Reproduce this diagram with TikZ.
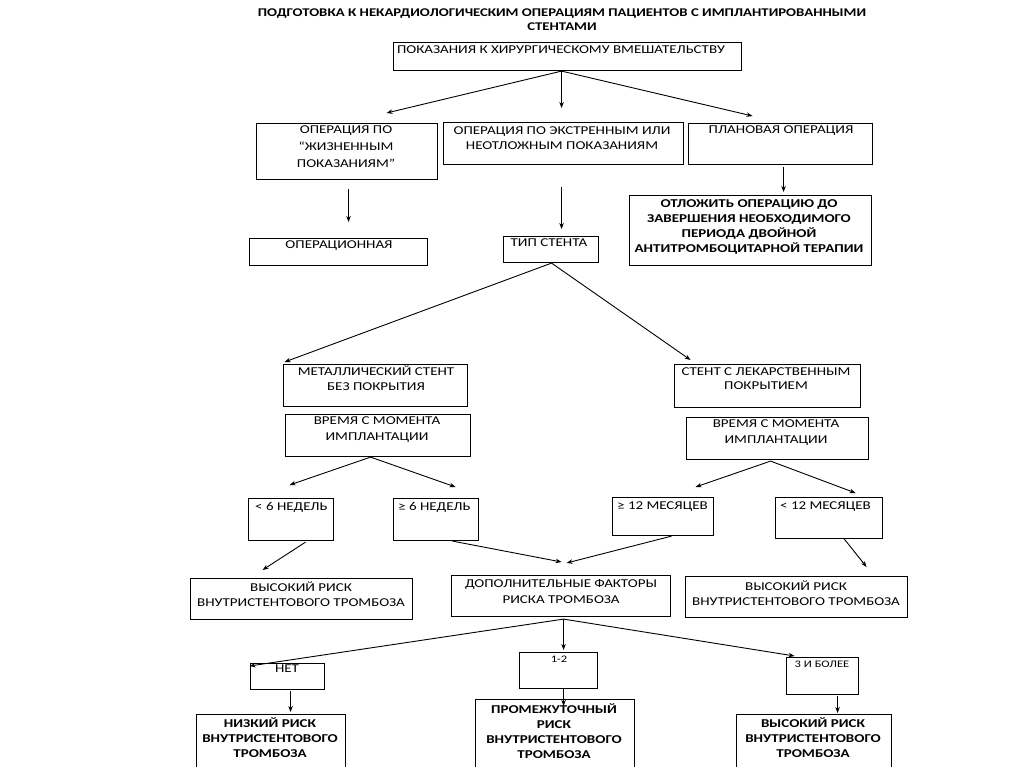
\documentclass[tikz,border=0pt]{standalone}
\usepackage{fontspec}
\setmainfont{Carlito}[FakeStretch=1.25]
\usetikzlibrary{arrows.meta}
\tikzset{
  box/.style={draw=black, line width=1.1pt, anchor=north west, inner sep=0pt},
  lbl/.style={anchor=north, inner sep=0pt, align=center, font=\fontsize{12}{15}\selectfont},
  lbll/.style={anchor=north west, inner sep=0pt, align=left, font=\fontsize{12}{15}\selectfont},
  blbl/.style={lbl, font=\fontsize{12}{15}\selectfont\bfseries},
  slbl/.style={lbl, font=\fontsize{10}{12}\selectfont},
  conn/.style={line width=0.9pt, -{Stealth[length=6pt,width=4.5pt]}},
  ttl/.style={anchor=north, inner sep=0pt, align=center, font=\fontsize{11.8}{14}\selectfont\bfseries}
}
\newcommand{\bx}[5]{\node[box, minimum width=#4pt-#2pt, minimum height=#5pt-#3pt] (#1) at (#2,#3) {};}
\begin{document}
\begin{tikzpicture}[x=1pt,y=-1pt]
\useasboundingbox (0,0) rectangle (1024,767);
\fill[white] (0,0) rectangle (1024,767);
\clip (0,0) rectangle (1024,767);
% title
\node[ttl] (title) at (562,8.5) {ПОДГОТОВКА К НЕКАРДИОЛОГИЧЕСКИМ ОПЕРАЦИЯМ ПАЦИЕНТОВ С ИМПЛАНТИРОВАННЫМИ\\СТЕНТАМИ};
% boxes
\bx{b0}{393}{42}{741}{70}
\bx{bA}{256}{123}{437}{179}
\bx{bB}{443}{122}{683}{164}
\bx{bC}{688}{123}{872}{164}
\bx{bOp}{249}{238}{427}{265}
\bx{bTip}{503}{236}{598}{262}
\bx{bDelay}{629}{195}{871}{265}
\bx{bMet}{283}{364}{467}{406}
\bx{bDrug}{674}{364}{860}{407}
\bx{bTimeL}{285}{414}{470}{456}
\bx{bTimeR}{686}{417}{868}{459}
\bx{bLtSix}{248}{498}{333}{540}
\bx{bGeSix}{393}{498}{478}{540}
\bx{bGeTw}{612}{497}{713}{535}
\bx{bLtTw}{775}{497}{882}{538}
\bx{bHighL}{190}{578}{412}{619}
\bx{bAdd}{451}{575}{670}{616}
\bx{bHighR}{685}{576}{907}{617}
\bx{bNo}{250}{663}{324}{689}
\bx{bOneTwo}{519}{652}{597}{688}
\bx{bThree}{786}{657}{858}{694}
\bx{bLow}{196}{714}{345}{790}
\bx{bMid}{475}{699}{634}{790}
\bx{bHighT}{736}{714}{891}{790}
% labels
\node[lbl] (t0) at (561,46) {ПОКАЗАНИЯ К ХИРУРГИЧЕСКОМУ ВМЕШАТЕЛЬСТВУ};
\node[lbl, font=\fontsize{12}{17}\selectfont] (tA) at (346,126) {ОПЕРАЦИЯ ПО\\“ЖИЗНЕННЫМ\\ПОКАЗАНИЯМ”};
\node[lbl] (tB) at (562,127) {ОПЕРАЦИЯ ПО ЭКСТРЕННЫМ ИЛИ\\НЕОТЛОЖНЫМ ПОКАЗАНИЯМ};
\node[lbl] (tC) at (781,126) {ПЛАНОВАЯ ОПЕРАЦИЯ};
\node[lbl] (tOp) at (339,241) {ОПЕРАЦИОННАЯ};
\node[lbl] (tTip) at (549,239) {ТИП СТЕНТА};
\node[blbl] (tDelay) at (749,199) {ОТЛОЖИТЬ ОПЕРАЦИЮ ДО\\ЗАВЕРШЕНИЯ НЕОБХОДИМОГО\\ПЕРИОДА ДВОЙНОЙ\\АНТИТРОМБОЦИТАРНОЙ ТЕРАПИИ};
\node[lbl] (tMet) at (376,366) {МЕТАЛЛИЧЕСКИЙ СТЕНТ\\БЕЗ ПОКРЫТИЯ};
\node[lbl, font=\fontsize{12}{14}\selectfont] (tDrug) at (766,368) {СТЕНТ С ЛЕКАРСТВЕННЫМ\\ПОКРЫТИЕМ};
\node[lbl, font=\fontsize{12}{16}\selectfont] (tTimeL) at (377,417) {ВРЕМЯ С МОМЕНТА\\ИМПЛАНТАЦИИ};
\node[lbl, font=\fontsize{12}{16}\selectfont] (tTimeR) at (776,420) {ВРЕМЯ С МОМЕНТА\\ИМПЛАНТАЦИИ};
\node[lbll] (tLtSix) at (255,502) {< 6 НЕДЕЛЬ};
\node[lbll] (tGeSix) at (398,502) {≥ 6 НЕДЕЛЬ};
\node[lbll] (tGeTw) at (617,502) {≥ 12 МЕСЯЦЕВ};
\node[lbll] (tLtTw) at (780,502) {< 12 МЕСЯЦЕВ};
\node[lbl] (tHighL) at (301,582) {ВЫСОКИЙ РИСК\\ВНУТРИСТЕНТОВОГО ТРОМБОЗА};
\node[lbl, font=\fontsize{12}{16}\selectfont] (tAdd) at (561,579) {ДОПОЛНИТЕЛЬНЫЕ ФАКТОРЫ\\РИСКА ТРОМБОЗА};
\node[lbl] (tHighR) at (796,581) {ВЫСОКИЙ РИСК\\ВНУТРИСТЕНТОВОГО ТРОМБОЗА};
\node[lbl] (tNo) at (287,665) {НЕТ};
\node[slbl] (tOneTwo) at (559,655.5) {1-2};
\node[slbl] (tThree) at (822,660.5) {3 И БОЛЕЕ};
\node[blbl] (tLow) at (270,717) {НИЗКИЙ РИСК\\ВНУТРИСТЕНТОВОГО\\ТРОМБОЗА};
\node[blbl] (tMid) at (554,703) {ПРОМЕЖУТОЧНЫЙ\\РИСК\\ВНУТРИСТЕНТОВОГО\\ТРОМБОЗА};
\node[blbl] (tHighT) at (813,717) {ВЫСОКИЙ РИСК\\ВНУТРИСТЕНТОВОГО\\ТРОМБОЗА};
% connectors
\draw[conn] ([xshift=-6pt]b0.south) -- ([xshift=39.5pt,yshift=10pt]bA.north);
\draw[conn] ([xshift=-6pt]b0.south) -- ([xshift=-2pt,yshift=14pt]bB.north);
\draw[conn] ([xshift=-6pt]b0.south) -- ([xshift=-28pt,yshift=7pt]bC.north);
\draw[conn] ([xshift=1.5pt,yshift=-9pt]bA.south) -- ([xshift=10pt,yshift=16pt]bOp.north);
\draw[conn] ([xshift=-2pt,yshift=-22pt]bB.south) -- ([xshift=10.5pt,yshift=7pt]bTip.north);
\draw[conn] ([xshift=3pt,yshift=-2pt]bC.south) -- ([xshift=33pt,yshift=3pt]bDelay.north);
\draw[conn] ([xshift=0.5pt]bTip.south) -- ([xshift=-91pt,yshift=2pt]bMet.north);
\draw[conn] ([xshift=0.5pt]bTip.south) -- ([xshift=-77pt,yshift=4pt]bDrug.north);
\draw[conn] ([xshift=-7.5pt]bTimeL.south) -- ([xshift=-1.5pt,yshift=13pt]bLtSix.north);
\draw[conn] ([xshift=-7.5pt]bTimeL.south) -- ([xshift=19.5pt,yshift=11pt]bGeSix.north);
\draw[conn] ([xshift=-7pt,yshift=-1pt]bTimeR.south) -- ([xshift=32.5pt,yshift=10pt]bGeTw.north);
\draw[conn] ([xshift=-7pt,yshift=-1pt]bTimeR.south) -- ([xshift=26.5pt,yshift=4pt]bLtTw.north);
\draw[conn] ([xshift=14.5pt,yshift=-1pt]bLtSix.south) -- ([xshift=-39pt,yshift=8pt]bHighL.north);
\draw[conn] ([xshift=16.5pt]bGeSix.south) -- ([xshift=0.5pt,yshift=13pt]bAdd.north);
\draw[conn] ([xshift=8.5pt]bGeTw.south) -- ([xshift=5.5pt,yshift=12pt]bAdd.north);
\draw[conn] ([xshift=14.5pt,yshift=1pt]bLtTw.south) -- ([xshift=70pt,yshift=9pt]bHighR.north);
\draw[conn] ([xshift=2.5pt,yshift=-2pt]bAdd.south) -- ([xshift=-38pt,yshift=-3pt]bNo.north);
\draw[conn] ([xshift=2.5pt,yshift=-2pt]bAdd.south) -- ([xshift=5pt,yshift=2pt]bOneTwo.north);
\draw[conn] ([xshift=2.5pt,yshift=-2pt]bAdd.south) -- ([xshift=-28pt,yshift=1pt]bThree.north);
\draw[conn] ([xshift=3pt,yshift=-1pt]bNo.south) -- ([xshift=19.5pt,yshift=2pt]bLow.north);
\draw[conn] ([xshift=5pt]bOneTwo.south) -- ([xshift=8.5pt,yshift=-7pt]bMid.north);
\draw[conn] ([xshift=15pt,yshift=-1pt]bThree.south) -- ([xshift=23.5pt,yshift=1pt]bHighT.north);
\end{tikzpicture}
\end{document}
